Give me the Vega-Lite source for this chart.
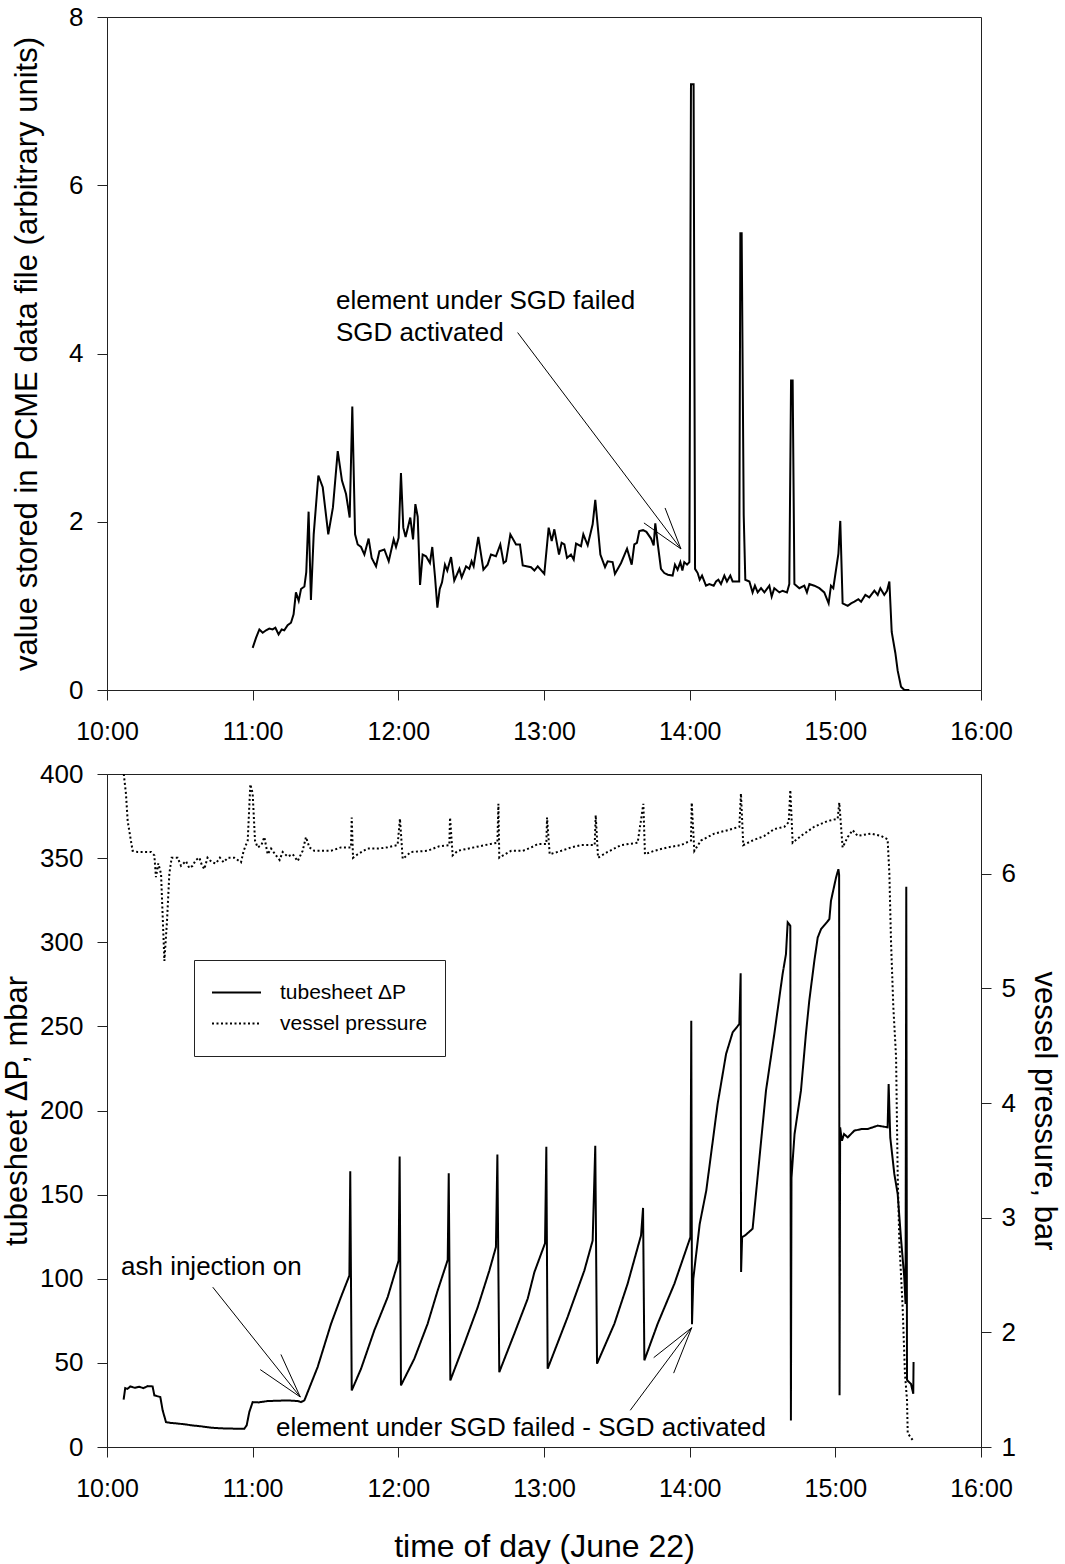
{
  "$schema": "https://vega.github.io/schema/vega-lite/v6.json",
  "background": "white",
  "padding": {"left": 1, "top": 3, "right": 2, "bottom": 2},
  "bounds": "flush",
  "spacing": 84,
  "config": {
    "font": "Liberation Sans",
    "view": {"stroke": "#222", "strokeWidth": 1},
    "axis": {
      "grid": false, "domainColor": "#222", "tickColor": "#222", "labelColor": "#000", "titleColor": "#000",
      "labelFont": "Liberation Sans", "titleFont": "Liberation Sans", "labelFontSize": 26, "titleFontSize": 31,
      "titleFontWeight": "normal", "tickSize": 10, "labelPadding": 14, "domainWidth": 1, "tickWidth": 1, "labelFlush": false
    },
    "legend": {
      "orient": "none", "legendX": 87, "legendY": 943, "symbolType": "stroke", "symbolSize": 2401,
      "symbolStrokeWidth": 2, "symbolStrokeColor": "black", "labelFontSize": 21, "labelFont": "Liberation Sans",
      "labelColor": "#000", "strokeColor": "#222", "padding": 17, "labelOffset": 18, "rowPadding": 0, "clipHeight": 31
    }
  },
  "datasets": {
    "pcme": [
      {"t":11.000,"v":0.50},{"t":11.023,"v":0.62},{"t":11.046,"v":0.72},{"t":11.069,"v":0.68},{"t":11.092,"v":0.71},
      {"t":11.114,"v":0.73},{"t":11.137,"v":0.72},{"t":11.156,"v":0.74},{"t":11.178,"v":0.66},{"t":11.199,"v":0.72},
      {"t":11.217,"v":0.71},{"t":11.240,"v":0.77},{"t":11.263,"v":0.80},{"t":11.281,"v":0.90},{"t":11.297,"v":1.16},
      {"t":11.316,"v":1.06},{"t":11.332,"v":1.20},{"t":11.355,"v":1.23},{"t":11.368,"v":1.40},{"t":11.384,"v":2.12},
      {"t":11.400,"v":1.07},{"t":11.419,"v":1.85},{"t":11.451,"v":2.55},{"t":11.481,"v":2.41},{"t":11.519,"v":1.85},
      {"t":11.551,"v":2.17},{"t":11.584,"v":2.84},{"t":11.613,"v":2.49},{"t":11.641,"v":2.33},{"t":11.666,"v":2.05},
      {"t":11.684,"v":3.37},{"t":11.703,"v":1.85},{"t":11.721,"v":1.73},{"t":11.744,"v":1.70},{"t":11.767,"v":1.61},
      {"t":11.796,"v":1.80},{"t":11.817,"v":1.57},{"t":11.847,"v":1.47},{"t":11.870,"v":1.65},{"t":11.904,"v":1.67},
      {"t":11.934,"v":1.53},{"t":11.968,"v":1.79},{"t":11.984,"v":1.70},{"t":12.002,"v":1.81},{"t":12.018,"v":2.58},
      {"t":12.034,"v":1.93},{"t":12.050,"v":1.82},{"t":12.082,"v":2.05},{"t":12.101,"v":1.79},{"t":12.117,"v":2.21},
      {"t":12.133,"v":2.06},{"t":12.149,"v":1.25},{"t":12.167,"v":1.61},{"t":12.190,"v":1.59},{"t":12.217,"v":1.51},
      {"t":12.233,"v":1.70},{"t":12.252,"v":1.34},{"t":12.268,"v":0.98},{"t":12.284,"v":1.20},{"t":12.300,"v":1.28},
      {"t":12.320,"v":1.49},{"t":12.336,"v":1.42},{"t":12.362,"v":1.58},{"t":12.384,"v":1.30},{"t":12.419,"v":1.44},
      {"t":12.435,"v":1.34},{"t":12.465,"v":1.47},{"t":12.487,"v":1.44},{"t":12.503,"v":1.53},{"t":12.517,"v":1.47},
      {"t":12.549,"v":1.82},{"t":12.584,"v":1.43},{"t":12.613,"v":1.49},{"t":12.636,"v":1.61},{"t":12.670,"v":1.59},
      {"t":12.700,"v":1.73},{"t":12.723,"v":1.51},{"t":12.739,"v":1.53},{"t":12.769,"v":1.85},{"t":12.808,"v":1.73},
      {"t":12.835,"v":1.73},{"t":12.854,"v":1.48},{"t":12.911,"v":1.46},{"t":12.934,"v":1.42},{"t":12.957,"v":1.47},
      {"t":13.002,"v":1.38},{"t":13.032,"v":1.93},{"t":13.053,"v":1.77},{"t":13.071,"v":1.91},{"t":13.103,"v":1.61},
      {"t":13.121,"v":1.75},{"t":13.140,"v":1.73},{"t":13.158,"v":1.57},{"t":13.185,"v":1.61},{"t":13.204,"v":1.55},
      {"t":13.220,"v":1.74},{"t":13.254,"v":1.71},{"t":13.270,"v":1.85},{"t":13.300,"v":1.72},{"t":13.334,"v":1.97},
      {"t":13.352,"v":2.26},{"t":13.387,"v":1.61},{"t":13.419,"v":1.46},{"t":13.437,"v":1.53},{"t":13.471,"v":1.52},
      {"t":13.487,"v":1.38},{"t":13.529,"v":1.51},{"t":13.570,"v":1.68},{"t":13.602,"v":1.49},{"t":13.620,"v":1.73},
      {"t":13.638,"v":1.75},{"t":13.654,"v":1.89},{"t":13.680,"v":1.90},{"t":13.703,"v":1.88},{"t":13.735,"v":1.80},
      {"t":13.753,"v":1.72},{"t":13.764,"v":1.98},{"t":13.780,"v":1.75},{"t":13.803,"v":1.44},{"t":13.826,"v":1.39},
      {"t":13.850,"v":1.37},{"t":13.883,"v":1.36},{"t":13.899,"v":1.49},{"t":13.917,"v":1.43},{"t":13.936,"v":1.52},
      {"t":13.950,"v":1.42},{"t":13.963,"v":1.52},{"t":13.982,"v":1.49},{"t":13.998,"v":1.52},{"t":14.009,"v":7.20},
      {"t":14.027,"v":7.20},{"t":14.037,"v":1.44},{"t":14.055,"v":1.39},{"t":14.069,"v":1.31},{"t":14.085,"v":1.36},
      {"t":14.112,"v":1.24},{"t":14.135,"v":1.26},{"t":14.165,"v":1.24},{"t":14.181,"v":1.29},{"t":14.197,"v":1.31},
      {"t":14.215,"v":1.26},{"t":14.238,"v":1.36},{"t":14.256,"v":1.29},{"t":14.279,"v":1.36},{"t":14.295,"v":1.29},
      {"t":14.330,"v":1.29},{"t":14.340,"v":1.29},{"t":14.348,"v":5.43},{"t":14.357,"v":5.43},{"t":14.371,"v":2.08},
      {"t":14.382,"v":1.31},{"t":14.410,"v":1.29},{"t":14.432,"v":1.16},{"t":14.448,"v":1.24},{"t":14.467,"v":1.16},
      {"t":14.490,"v":1.21},{"t":14.513,"v":1.16},{"t":14.547,"v":1.24},{"t":14.563,"v":1.11},{"t":14.581,"v":1.21},
      {"t":14.616,"v":1.16},{"t":14.638,"v":1.18},{"t":14.668,"v":1.16},{"t":14.684,"v":1.26},{"t":14.696,"v":3.68},
      {"t":14.707,"v":3.68},{"t":14.719,"v":1.26},{"t":14.753,"v":1.21},{"t":14.787,"v":1.24},{"t":14.805,"v":1.16},
      {"t":14.822,"v":1.26},{"t":14.856,"v":1.24},{"t":14.890,"v":1.21},{"t":14.924,"v":1.16},{"t":14.954,"v":1.03},
      {"t":14.970,"v":1.24},{"t":14.986,"v":1.21},{"t":15.021,"v":1.62},{"t":15.034,"v":2.01},{"t":15.050,"v":1.03},
      {"t":15.085,"v":1.00},{"t":15.108,"v":1.03},{"t":15.131,"v":1.05},{"t":15.158,"v":1.08},{"t":15.177,"v":1.05},
      {"t":15.206,"v":1.13},{"t":15.233,"v":1.10},{"t":15.268,"v":1.18},{"t":15.291,"v":1.13},{"t":15.309,"v":1.21},
      {"t":15.336,"v":1.13},{"t":15.355,"v":1.18},{"t":15.371,"v":1.29},{"t":15.387,"v":0.69},{"t":15.412,"v":0.44},
      {"t":15.428,"v":0.23},{"t":15.451,"v":0.04},{"t":15.474,"v":0.00},{"t":15.508,"v":0.00}
    ],
    "dp": [
      {"t":10.114,"v":28.1},{"t":10.125,"v":35.0},{"t":10.140,"v":34.5},{"t":10.160,"v":36.0},{"t":10.190,"v":35.2},
      {"t":10.220,"v":35.8},{"t":10.250,"v":35.0},{"t":10.280,"v":36.2},{"t":10.313,"v":36.0},{"t":10.325,"v":30.7},
      {"t":10.366,"v":29.7},{"t":10.382,"v":21.8},{"t":10.405,"v":14.8},{"t":10.439,"v":14.3},{"t":10.480,"v":14.0},
      {"t":10.531,"v":13.5},{"t":10.590,"v":12.8},{"t":10.645,"v":12.3},{"t":10.714,"v":11.5},{"t":10.783,"v":11.1},
      {"t":10.874,"v":10.9},{"t":10.943,"v":10.9},{"t":10.959,"v":12.9},{"t":10.977,"v":20.8},{"t":11.000,"v":26.7},
      {"t":11.040,"v":26.5},{"t":11.103,"v":27.3},{"t":11.170,"v":27.5},{"t":11.240,"v":27.7},{"t":11.309,"v":27.3},
      {"t":11.332,"v":26.7},{"t":11.355,"v":27.7},{"t":11.446,"v":47.5},{"t":11.538,"v":73.2},{"t":11.606,"v":89.1},
      {"t":11.664,"v":101.9},{"t":11.670,"v":163.9},{"t":11.680,"v":33.6},{"t":11.744,"v":46.5},{"t":11.835,"v":69.3},
      {"t":11.927,"v":89.1},{"t":12.002,"v":110.8},{"t":12.009,"v":172.6},{"t":12.018,"v":36.6},{"t":12.110,"v":52.5},
      {"t":12.201,"v":73.2},{"t":12.270,"v":93.0},{"t":12.339,"v":111.2},{"t":12.346,"v":162.7},{"t":12.357,"v":39.6},
      {"t":12.453,"v":61.4},{"t":12.545,"v":83.1},{"t":12.625,"v":104.9},{"t":12.670,"v":118.8},{"t":12.680,"v":173.8},
      {"t":12.693,"v":44.5},{"t":12.796,"v":67.3},{"t":12.888,"v":88.1},{"t":12.934,"v":103.9},{"t":13.007,"v":121.1},
      {"t":13.016,"v":178.5},{"t":13.025,"v":46.5},{"t":13.162,"v":77.2},{"t":13.277,"v":104.9},{"t":13.334,"v":122.7},
      {"t":13.352,"v":179.1},{"t":13.364,"v":49.5},{"t":13.483,"v":73.2},{"t":13.574,"v":97.0},{"t":13.666,"v":125.7},
      {"t":13.680,"v":142.1},{"t":13.689,"v":51.5},{"t":13.780,"v":73.2},{"t":13.895,"v":97.0},{"t":14.005,"v":124.7},
      {"t":14.011,"v":253.4},{"t":14.016,"v":73.0},{"t":14.025,"v":100.0},{"t":14.069,"v":132.6},{"t":14.114,"v":152.4},
      {"t":14.192,"v":203.9},{"t":14.250,"v":233.6},{"t":14.295,"v":246.4},{"t":14.341,"v":251.4},{"t":14.350,"v":281.5},
      {"t":14.353,"v":104.0},{"t":14.360,"v":124.7},{"t":14.380,"v":125.7},{"t":14.432,"v":129.7},{"t":14.524,"v":211.8},
      {"t":14.581,"v":245.4},{"t":14.638,"v":281.1},{"t":14.661,"v":292.9},{"t":14.673,"v":311.8},{"t":14.691,"v":309.8},
      {"t":14.695,"v":15.8},{"t":14.699,"v":160.0},{"t":14.720,"v":186.0},{"t":14.764,"v":211.8},{"t":14.798,"v":245.4},
      {"t":14.821,"v":265.2},{"t":14.856,"v":289.0},{"t":14.879,"v":302.8},{"t":14.902,"v":307.8},{"t":14.959,"v":313.7},
      {"t":14.970,"v":324.6},{"t":15.005,"v":338.5},{"t":15.021,"v":343.4},{"t":15.026,"v":340.0},{"t":15.029,"v":30.7},
      {"t":15.033,"v":190.0},{"t":15.045,"v":182.0},{"t":15.060,"v":186.0},{"t":15.085,"v":184.0},{"t":15.130,"v":188.0},
      {"t":15.180,"v":189.0},{"t":15.222,"v":189.0},{"t":15.291,"v":191.0},{"t":15.359,"v":190.0},{"t":15.366,"v":215.8},
      {"t":15.377,"v":184.0},{"t":15.405,"v":162.3},{"t":15.428,"v":150.4},{"t":15.450,"v":124.7},{"t":15.473,"v":101.0},
      {"t":15.482,"v":85.0},{"t":15.487,"v":333.0},{"t":15.492,"v":40.0},{"t":15.500,"v":39.0},{"t":15.519,"v":37.6},
      {"t":15.535,"v":31.7},{"t":15.537,"v":50.5}
    ],
    "vp": [
      {"t":10.115,"v":6.87},{"t":10.130,"v":6.70},{"t":10.142,"v":6.46},{"t":10.160,"v":6.32},{"t":10.176,"v":6.20},
      {"t":10.210,"v":6.19},{"t":10.302,"v":6.19},{"t":10.325,"v":6.16},{"t":10.336,"v":5.97},{"t":10.352,"v":6.09},
      {"t":10.371,"v":6.00},{"t":10.394,"v":5.24},{"t":10.412,"v":5.59},{"t":10.428,"v":6.00},{"t":10.444,"v":6.14},
      {"t":10.485,"v":6.14},{"t":10.508,"v":6.07},{"t":10.542,"v":6.11},{"t":10.565,"v":6.05},{"t":10.588,"v":6.07},
      {"t":10.610,"v":6.12},{"t":10.634,"v":6.14},{"t":10.650,"v":6.08},{"t":10.668,"v":6.04},{"t":10.690,"v":6.14},
      {"t":10.720,"v":6.10},{"t":10.748,"v":6.09},{"t":10.775,"v":6.14},{"t":10.800,"v":6.10},{"t":10.830,"v":6.14},
      {"t":10.874,"v":6.14},{"t":10.920,"v":6.10},{"t":10.938,"v":6.20},{"t":10.966,"v":6.29},{"t":10.984,"v":6.78},
      {"t":11.000,"v":6.70},{"t":11.016,"v":6.29},{"t":11.034,"v":6.23},{"t":11.060,"v":6.25},{"t":11.080,"v":6.32},
      {"t":11.103,"v":6.17},{"t":11.126,"v":6.22},{"t":11.160,"v":6.16},{"t":11.185,"v":6.12},{"t":11.206,"v":6.19},
      {"t":11.240,"v":6.15},{"t":11.275,"v":6.17},{"t":11.309,"v":6.11},{"t":11.343,"v":6.20},{"t":11.366,"v":6.32},
      {"t":11.389,"v":6.23},{"t":11.423,"v":6.20},{"t":11.538,"v":6.20},{"t":11.606,"v":6.23},{"t":11.675,"v":6.23},
      {"t":11.680,"v":6.49},{"t":11.689,"v":6.14},{"t":11.721,"v":6.17},{"t":11.789,"v":6.22},{"t":11.860,"v":6.22},
      {"t":11.927,"v":6.23},{"t":11.995,"v":6.25},{"t":12.011,"v":6.48},{"t":12.030,"v":6.13},{"t":12.087,"v":6.19},
      {"t":12.201,"v":6.20},{"t":12.281,"v":6.24},{"t":12.350,"v":6.25},{"t":12.355,"v":6.49},{"t":12.373,"v":6.16},
      {"t":12.407,"v":6.20},{"t":12.520,"v":6.23},{"t":12.634,"v":6.26},{"t":12.680,"v":6.27},{"t":12.687,"v":6.61},
      {"t":12.693,"v":6.14},{"t":12.775,"v":6.20},{"t":12.855,"v":6.20},{"t":12.913,"v":6.23},{"t":12.959,"v":6.26},
      {"t":13.016,"v":6.26},{"t":13.021,"v":6.49},{"t":13.039,"v":6.17},{"t":13.119,"v":6.20},{"t":13.188,"v":6.23},
      {"t":13.256,"v":6.25},{"t":13.348,"v":6.25},{"t":13.355,"v":6.51},{"t":13.371,"v":6.14},{"t":13.437,"v":6.19},
      {"t":13.529,"v":6.25},{"t":13.643,"v":6.27},{"t":13.682,"v":6.61},{"t":13.693,"v":6.17},{"t":13.757,"v":6.20},
      {"t":13.849,"v":6.23},{"t":13.941,"v":6.25},{"t":14.009,"v":6.29},{"t":14.014,"v":6.62},{"t":14.032,"v":6.20},
      {"t":14.078,"v":6.29},{"t":14.169,"v":6.35},{"t":14.261,"v":6.38},{"t":14.341,"v":6.41},{"t":14.352,"v":6.70},
      {"t":14.368,"v":6.25},{"t":14.432,"v":6.29},{"t":14.513,"v":6.33},{"t":14.581,"v":6.39},{"t":14.650,"v":6.41},
      {"t":14.680,"v":6.45},{"t":14.691,"v":6.73},{"t":14.707,"v":6.27},{"t":14.764,"v":6.33},{"t":14.856,"v":6.41},
      {"t":14.947,"v":6.46},{"t":15.016,"v":6.48},{"t":15.027,"v":6.62},{"t":15.050,"v":6.23},{"t":15.085,"v":6.32},
      {"t":15.119,"v":6.38},{"t":15.153,"v":6.33},{"t":15.245,"v":6.35},{"t":15.314,"v":6.33},{"t":15.359,"v":6.30},
      {"t":15.371,"v":6.00},{"t":15.382,"v":5.42},{"t":15.398,"v":4.84},{"t":15.417,"v":4.40},{"t":15.428,"v":3.38},
      {"t":15.439,"v":2.80},{"t":15.462,"v":2.22},{"t":15.478,"v":1.64},{"t":15.492,"v":1.41},{"t":15.497,"v":1.12},
      {"t":15.531,"v":1.06}
    ],
    "topText": [{"t":11.572,"v":4.625,"label":["element under SGD failed","SGD activated"]}],
    "topArrows": [
      {"t":12.819,"v":4.249,"t2":13.940,"v2":1.677},
      {"t":13.686,"v":1.986,"t2":13.940,"v2":1.677},
      {"t":13.831,"v":2.164,"t2":13.940,"v2":1.677}
    ],
    "botText": [
      {"t":10.096,"v":106.9,"label":"ash injection on"},
      {"t":11.160,"v":11.4,"label":"element under SGD failed - SGD activated"}
    ],
    "botArrows": [
      {"t":10.726,"v":95.0,"t2":11.327,"v2":29.7},
      {"t":11.052,"v":46.0,"t2":11.327,"v2":29.7},
      {"t":11.194,"v":55.0,"t2":11.327,"v2":29.7},
      {"t":13.592,"v":21.8,"t2":14.014,"v2":70.9},
      {"t":13.753,"v":53.1,"t2":14.014,"v2":70.9},
      {"t":13.890,"v":43.9,"t2":14.014,"v2":70.9}
    ]
  },
  "vconcat": [
    {
      "width": 874,
      "height": 673,
      "layer": [
        {
          "data": {"name": "pcme"},
          "mark": {"type": "line", "color": "black", "strokeWidth": 2},
          "encoding": {
            "x": {"field": "t", "type": "quantitative", "scale": {"domain": [10, 16], "nice": false},
                  "axis": {"values": [10, 11, 12, 13, 14, 15, 16], "labelExpr": "datum.value + ':00'", "title": null, "labelPadding": 19, "labelFontSize": 25}},
            "y": {"field": "v", "type": "quantitative", "scale": {"domain": [0, 8], "nice": false},
                  "axis": {"values": [0, 2, 4, 6, 8], "format": "d", "title": "value stored in PCME data file (arbitrary units)", "titlePadding": 25}}
          }
        },
        {
          "data": {"name": "topArrows"},
          "mark": {"type": "rule", "color": "black", "strokeWidth": 1},
          "encoding": {
            "x": {"field": "t", "type": "quantitative"},
            "y": {"field": "v", "type": "quantitative"},
            "x2": {"field": "t2"},
            "y2": {"field": "v2"}
          }
        },
        {
          "data": {"name": "topText"},
          "mark": {"type": "text", "align": "left", "baseline": "middle", "fontSize": 26, "lineHeight": 32, "font": "Liberation Sans", "color": "black"},
          "encoding": {
            "x": {"field": "t", "type": "quantitative"},
            "y": {"field": "v", "type": "quantitative"},
            "text": {"field": "label"}
          }
        }
      ]
    },
    {
      "width": 874,
      "height": 673,
      "layer": [
        {
          "data": {"name": "dp"},
          "mark": {"type": "line", "color": "black", "strokeWidth": 2},
          "encoding": {
            "x": {"field": "t", "type": "quantitative", "scale": {"domain": [10, 16], "nice": false},
                  "axis": {"values": [10, 11, 12, 13, 14, 15, 16], "labelExpr": "datum.value + ':00'", "title": "time of day (June 22)", "labelPadding": 19, "labelFontSize": 25, "titlePadding": 30, "titleFontSize": 32}},
            "y": {"field": "v", "type": "quantitative", "scale": {"domain": [0, 400], "nice": false},
                  "axis": {"values": [0, 50, 100, 150, 200, 250, 300, 350, 400], "title": "tubesheet ΔP, mbar", "titlePadding": 6}},
            "strokeDash": {"datum": "tubesheet ΔP", "type": "nominal",
                  "scale": {"domain": ["tubesheet ΔP", "vessel pressure"], "range": [[1, 0], [2, 2.5]]},
                  "legend": {"title": null}}
          }
        },
        {
          "data": {"name": "vp"},
          "mark": {"type": "line", "color": "black", "strokeWidth": 2},
          "encoding": {
            "x": {"field": "t", "type": "quantitative"},
            "y": {"field": "v", "type": "quantitative", "scale": {"domain": [1, 6.87], "nice": false},
                  "axis": {"orient": "right", "values": [1, 2, 3, 4, 5, 6], "title": "vessel pressure, bar", "titlePadding": 12, "labelPadding": 10}},
            "strokeDash": {"datum": "vessel pressure", "type": "nominal"}
          }
        },
        {
          "data": {"name": "botArrows"},
          "mark": {"type": "rule", "color": "black", "strokeWidth": 1},
          "encoding": {
            "x": {"field": "t", "type": "quantitative"},
            "y": {"field": "v", "type": "quantitative", "scale": {"domain": [0, 400], "nice": false}, "axis": null},
            "x2": {"field": "t2"},
            "y2": {"field": "v2"}
          }
        },
        {
          "data": {"name": "botText"},
          "mark": {"type": "text", "align": "left", "baseline": "middle", "fontSize": 26, "font": "Liberation Sans", "color": "black"},
          "encoding": {
            "x": {"field": "t", "type": "quantitative"},
            "y": {"field": "v", "type": "quantitative", "scale": {"domain": [0, 400], "nice": false}, "axis": null},
            "text": {"field": "label"}
          }
        }
      ],
      "resolve": {"scale": {"y": "independent", "strokeDash": "shared"}}
    }
  ]
}
